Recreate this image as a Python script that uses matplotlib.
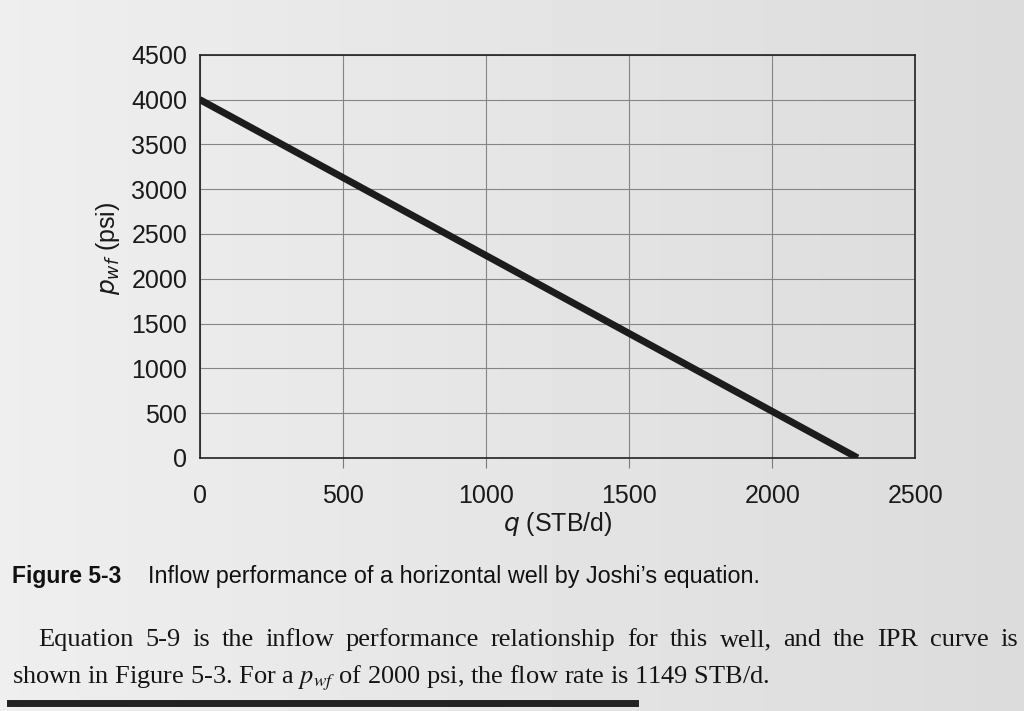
import numpy as np
import matplotlib
matplotlib.use("Agg")
import matplotlib.pyplot as plt
from matplotlib.lines import Line2D

# IPR curve, Joshi's equation (straight line, p_r = 4000 psi, q at 2000 psi = 1149)
q = [0, 1149, 2298]
pwf = [4000, 2000, 0]

xticks = [0, 500, 1000, 1500, 2000, 2500]
yticks = [0, 500, 1000, 1500, 2000, 2500, 3000, 3500, 4000, 4500]

caption_no = "Figure 5-3"
caption = "Inflow performance of a horizontal well by Joshi\u2019s equation."
body1 = "Equation 5-9 is the inflow performance relationship for this well, and the IPR curve is"
body2 = r"shown in Figure 5-3. For a $p_{wf}$ of 2000 psi, the flow rate is 1149 STB/d."

sans = ['Liberation Sans', 'DejaVu Sans']
serif = ['Liberation Serif', 'DejaVu Serif']
page = '#e6e6e3'
W, H = 1024, 711

fig = plt.figure(figsize=(W / 100, H / 100), dpi=100, facecolor=page)

# faint page shading (photo of a book page)
bg = fig.add_axes([0, 0, 1, 1], zorder=-10)
shade = np.tile(np.linspace(0.935, 0.86, 256), (2, 1))
bg.imshow(shade, cmap='gray', vmin=0, vmax=1, aspect='auto', extent=[0, 1, 0, 1])
bg.set_axis_off()

ax = fig.add_axes([0.195, 0.356, 0.699, 0.567])
ax.patch.set_alpha(0)
ax.plot(q, pwf, color='#1c1c1c', lw=5, solid_capstyle='butt', zorder=3)

ax.set_xlim(0, 2500)
ax.set_ylim(0, 4500)
ax.set_xticks(xticks)
ax.set_yticks(yticks)
ax.grid(True, color='#858585', lw=0.8)
for s in ax.spines.values():
    s.set_color('#222222')
    s.set_linewidth(1.2)

ax.tick_params(axis='x', direction='out', length=7.5, width=0.8, color='#7a7a7a', pad=11)
ax.tick_params(axis='y', length=0, pad=9)
xt = ax.xaxis.get_major_ticks()
xt[0].tick1line.set_visible(False)
xt[-1].tick1line.set_visible(False)
for lab in ax.get_xticklabels() + ax.get_yticklabels():
    lab.set_family(sans)
    lab.set_fontsize(18)
    lab.set_color('#1a1a1a')

ax.set_xlabel(r'$q$ (STB/d)', family=sans, fontsize=18, color='#1a1a1a',
              math_fontfamily='dejavusans', labelpad=2)
ax.set_ylabel(r'$p_{wf}$ (psi)', family=sans, fontsize=18, color='#1a1a1a',
              math_fontfamily='dejavusans')
ax.yaxis.set_label_coords(-0.108, 0.52)

fig.text(0.012, 1 - 577 / H, caption_no, family=sans,
         weight='bold', fontsize=16.5, va='center', color='#111111')
fig.text(148 / W, 1 - 577 / H, caption, family=sans,
         fontsize=16.8, va='center', color='#111111')

# first body line is justified between x=38 and x=1018 px
y1 = 1 - 640 / H
words = body1.split(' ')
wt = [fig.text(0, y1, w, family=serif, fontsize=19, va='center', color='#151515')
      for w in words]
fig.canvas.draw()
rend = fig.canvas.get_renderer()
widths = [t.get_window_extent(rend).width for t in wt]
gap = (1018 - 38 - sum(widths)) / (len(words) - 1)
x = 38
for t, w in zip(wt, widths):
    t.set_x(x / W)
    x += w + gap

fig.text(0.012, 1 - 678 / H, body2, family=serif,
         fontsize=19, va='center', color='#151515', math_fontfamily='stix')

fig.add_artist(Line2D([0.01, 0.62], [0.011, 0.011], transform=fig.transFigure,
                      lw=5, color='#222222'))

fig.savefig('out.png', dpi=100, facecolor=page)
